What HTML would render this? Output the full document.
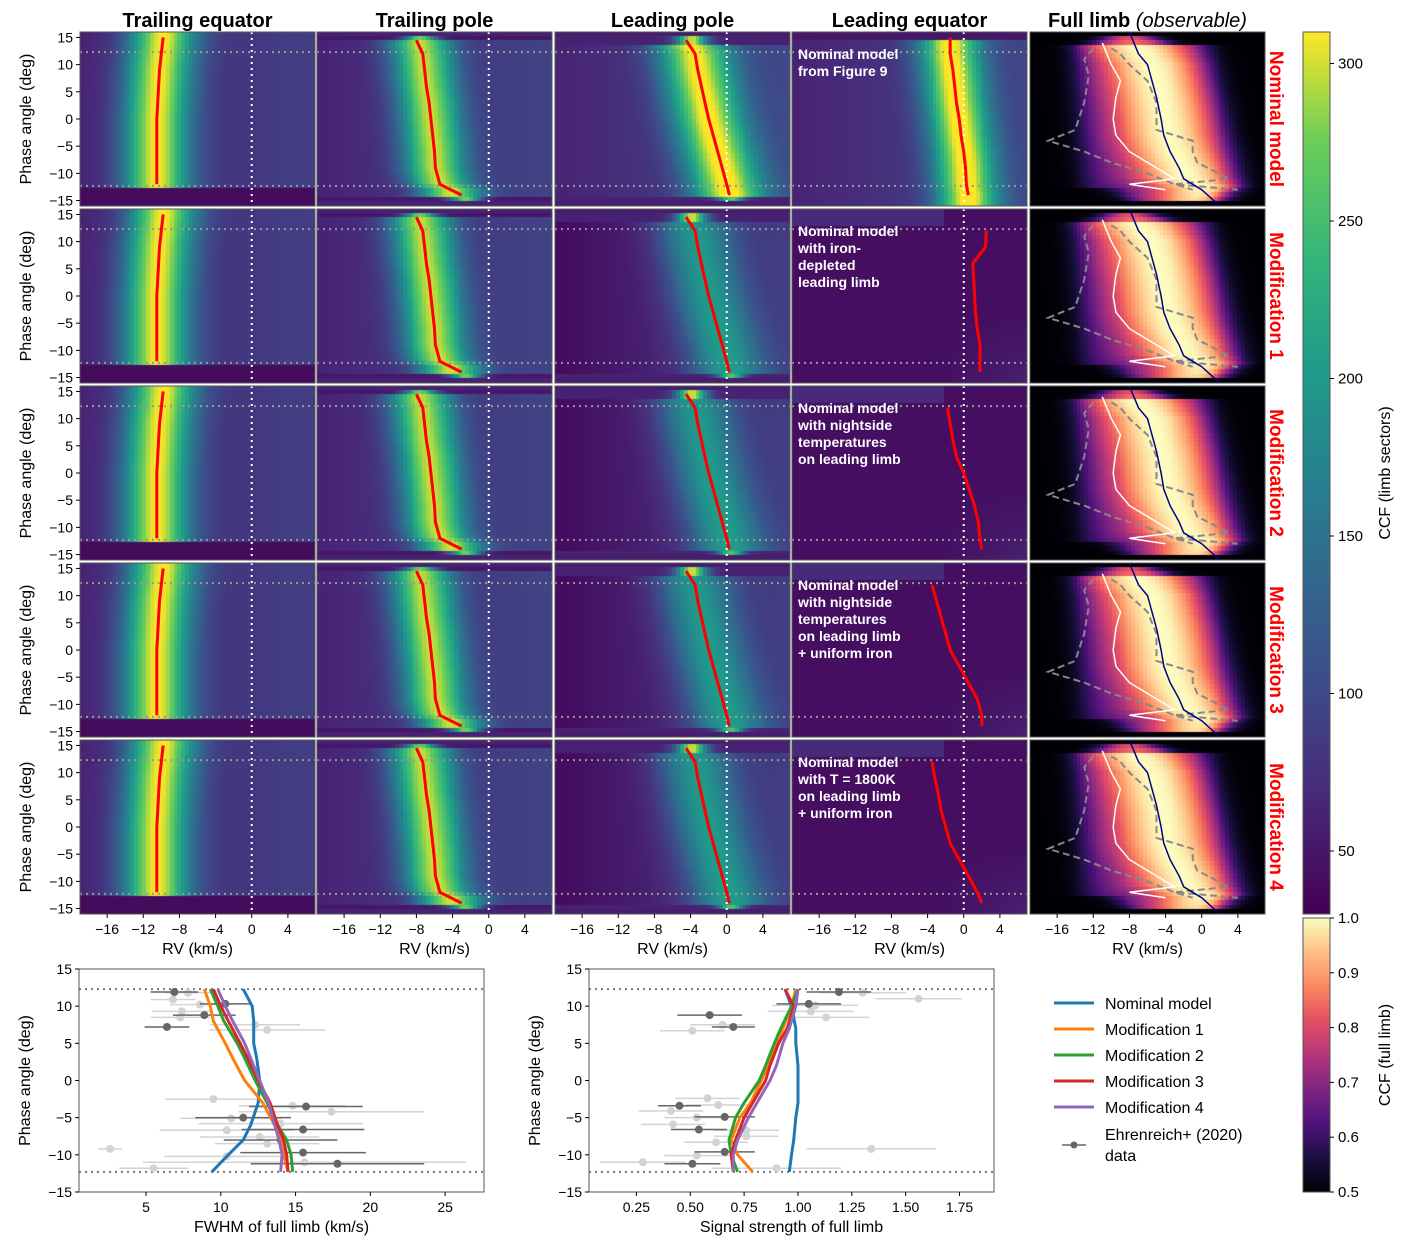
<!DOCTYPE html>
<html><head><meta charset="utf-8">
<style>
body{margin:0;background:#fff;width:1402px;height:1244px;overflow:hidden;position:relative;font-family:"Liberation Sans",sans-serif}
canvas{position:absolute}
svg{position:absolute;left:0;top:0}
</style></head>
<body>
<div id="cv"></div>
<svg id="s" width="1402" height="1244">
<defs>
<linearGradient id="vir" x1="0" y1="1" x2="0" y2="0">
<stop offset="0" stop-color="#440154"/><stop offset="0.13" stop-color="#482878"/><stop offset="0.25" stop-color="#3e4989"/><stop offset="0.38" stop-color="#31688e"/><stop offset="0.5" stop-color="#26828e"/><stop offset="0.63" stop-color="#1f9e89"/><stop offset="0.75" stop-color="#35b779"/><stop offset="0.88" stop-color="#6ece58"/><stop offset="1" stop-color="#fde725"/></linearGradient>
<linearGradient id="mag" x1="0" y1="1" x2="0" y2="0">
<stop offset="0" stop-color="#000004"/><stop offset="0.13" stop-color="#1c1044"/><stop offset="0.25" stop-color="#4f127b"/><stop offset="0.38" stop-color="#812581"/><stop offset="0.5" stop-color="#b5367a"/><stop offset="0.63" stop-color="#e55064"/><stop offset="0.75" stop-color="#fb8761"/><stop offset="0.88" stop-color="#fec287"/><stop offset="1" stop-color="#fcfdbf"/></linearGradient>
</defs>
</svg>
<script>
// ---------- data ----------
const colTitles=["Trailing equator","Trailing pole","Leading pole","Leading equator"];
const rowLabels=["Nominal model","Modification 1","Modification 2","Modification 3","Modification 4"];
const annots=[["Nominal model","from Figure 9"],["Nominal model","with iron-","depleted","leading limb"],["Nominal model","with nightside","temperatures","on leading limb"],["Nominal model","with nightside","temperatures","on leading limb","+ uniform iron"],["Nominal model","with T = 1800K","on leading limb","+ uniform iron"]];
const phases=[15,12,9,6,3,0,-3,-6,-9,-12,-14];
const centerTE=[-9.8,-10,-10.2,-10.3,-10.4,-10.5,-10.5,-10.5,-10.5,-10.5,null];
const centerTP=[-8,-7.3,-7.1,-6.9,-6.6,-6.4,-6.2,-6,-5.9,-5.4,-3];
const centerLP=[-4.5,-3.5,-3.2,-2.8,-2.4,-2,-1.5,-1,-0.5,0,0.3];
const centerLE=[[-1.5,-1.5,-1.2,-1,-0.8,-0.5,-0.3,0,0.2,0.3,0.5],
 [null,2.5,2.4,1.0,1.1,1.2,1.3,1.5,1.8,1.8,1.8],
 [null,-1.8,-1.5,-1.2,-0.8,0,0.6,1.2,1.6,1.8,2],
 [null,-3.5,-3,-2.5,-2,-1.5,-0.5,0.5,1.5,2,2],
 [null,-3.5,-3.2,-2.8,-2.5,-2,-1.5,-0.5,0.5,1.5,2]];
const lpAmp=[230,130,130,130,130];
// full limb lines
const flPh=[14,12,10,7,4,0,-3,-6,-9,-11,-12,-13];
const whiteRV=[-11,-10.5,-10,-9,-9.5,-9.8,-9.5,-8,-5,-3,-8,-4];
const navyRV=[-8,-7,-6,-5.5,-5,-4.5,-4.2,-3.5,-2.5,-2,-1,0];
const dashL_ph=[13,11,8,3,-2,-4,-6,-8,-10,-12,-13];
const dashL_rv=[-12,-13,-12.5,-13,-14,-17,-13,-10,-6,-3,-1];
const dashR_ph=[13,12,10,7,3,-2,-4,-6,-8,-11,-12,-13];
const dashR_rv=[-10,-9,-8,-6,-5,-5,-1,-1,-0.5,3,-3,4];
// bottom-left FWHM
const fwPh=[12.3,10,8,5,3,0,-3,-6,-8,-10,-12.3];
const fwBlue=[11.5,12.1,12.2,12.2,12.4,12.6,12.5,12.0,11.5,10.5,9.4];
const fwOrange=[8.9,9.3,9.5,10.3,10.8,11.6,12.8,13.6,14.0,14.2,14.5];
const fwGreen=[9.3,9.8,10.2,11.1,11.6,12.3,13.1,13.8,14.4,14.7,14.8];
const fwRed=[9.5,10.0,10.5,11.3,11.8,12.5,13.3,13.8,14.2,14.4,14.5];
const fwPurple=[9.8,10.3,10.8,11.6,12.0,12.6,13.2,13.6,13.9,14.1,14.0];
const fwDarkX=[6.9,10.3,8.9,6.4,15.7,11.5,15.5,14,15.5,17.8];
const fwDarkY=[11.9,10.3,8.8,7.2,-3.5,-5,-6.6,-8,-9.7,-11.2];
const fwDarkE=[1.6,1.7,2.1,1.5,3.8,3.2,4.1,3.8,4.2,5.8];
const fwLightX=[7.8,6.8,8.6,7.4,7.3,12.3,13.1,9.5,14.8,17.4,10.7,14,10.4,12.6,13.1,2.6,10.4,15.6,5.5];
const fwLightY=[11.8,10.9,10.2,9.3,8.5,7.5,6.8,-2.5,-3.4,-4.2,-5.1,-5.8,-6.7,-7.6,-8.5,-9.2,-10.2,-11,-11.8];
const fwLightE=[1.5,1.5,2,2,2,3,3.9,3.2,3.6,6.2,3.4,5.5,4.5,4,3.5,0.8,4.2,10.8,2.3];
// bottom-right signal strength
const ssPh=[12.3,10,7,5,2,0,-3,-5,-8,-10,-12.3];
const ssBlue=[0.94,0.97,0.99,0.99,1.0,1.0,1.0,0.99,0.98,0.97,0.96];
const ssOrange=[0.99,0.97,0.93,0.9,0.86,0.83,0.78,0.73,0.69,0.72,0.79];
const ssGreen=[1.0,0.97,0.92,0.89,0.85,0.82,0.75,0.71,0.68,0.69,0.72];
const ssRed=[0.94,0.98,0.95,0.91,0.87,0.85,0.79,0.75,0.71,0.69,0.70];
const ssPurple=[1.0,0.99,0.96,0.93,0.9,0.87,0.81,0.77,0.72,0.70,0.70];
const ssDarkX=[1.19,1.05,0.59,0.7,0.45,0.66,0.54,0.66,0.51];
const ssDarkY=[11.9,10.3,8.8,7.2,-3.4,-4.9,-6.6,-9.6,-11.2];
const ssDarkE=[0.15,0.15,0.15,0.1,0.1,0.14,0.13,0.14,0.13];
const ssLightX=[1.3,1.56,1.08,1.06,1.13,0.65,0.51,0.58,0.63,0.41,0.53,0.42,0.76,0.76,0.62,1.34,0.53,0.28,0.9];
const ssLightY=[11.8,11,10.1,9.3,8.5,7.5,6.7,-2.4,-3.3,-4.1,-5,-5.9,-6.7,-7.5,-8.3,-9.2,-10.1,-11,-11.8];
const ssLightE=[0.2,0.2,0.2,0.2,0.2,0.15,0.15,0.15,0.15,0.15,0.15,0.15,0.15,0.15,0.15,0.3,0.15,0.2,0.3];
const legendNames=["Nominal model","Modification 1","Modification 2","Modification 3","Modification 4"];
const legendColors=["#1f77b4","#ff7f0e","#2ca02c","#d62728","#9467bd"];

// ---------- helpers ----------
const NS="http://www.w3.org/2000/svg";
const S=document.getElementById('s');
function el(tag,attrs,parent){const e=document.createElementNS(NS,tag);for(const k in attrs)e.setAttribute(k,attrs[k]);(parent||S).appendChild(e);return e;}
function txt(x,y,t,attrs,parent){const e=el('text',Object.assign({x:x,y:y,'font-size':15,fill:'#000'},attrs||{}),parent);e.textContent=t;return e;}
function interp(xs,ys,x){
  if(x>=xs[0])return ys[0];
  for(let i=1;i<xs.length;i++){if(x>=xs[i]){const a=ys[i-1],b=ys[i];if(a==null||b==null)return a==null?b:a;const t=(xs[i-1]-x)/(xs[i-1]-xs[i]);return a+(b-a)*t;}}
  return ys[ys.length-1];
}
const VIR=[[68,1,84],[72,40,120],[62,73,137],[49,104,142],[38,130,142],[31,158,137],[53,183,121],[110,206,88],[253,231,37]];
const MAG=[[0,0,4],[28,16,68],[79,18,123],[129,37,129],[181,54,122],[229,80,100],[251,135,97],[254,194,135],[252,253,191]];
function cmap(c,t){t=Math.max(0,Math.min(1,t));const f=t*(c.length-1),i=Math.min(c.length-2,Math.floor(f)),r=f-i;return 'rgb('+c[i].map((v,k)=>Math.round(v+(c[i+1][k]-v)*r)).join(',')+')';}
const vmin=30,vmax=310;

const colX=[80,317,555,792,1030],W=235,rowY=[32,209,386,563,740],H=174;
const xr=[-19,7],yr=[-16,16];
const xs=(c,v)=>colX[c]+(v-xr[0])/(xr[1]-xr[0])*W;
const ys=(r,v)=>rowY[r]+(yr[1]-v)/(yr[1]-yr[0])*H;

function heatVal(c,r,rv,ph){
  const g=(cc,s)=>cc==null?0:Math.exp(-0.5*((rv-cc)/s)**2);
  if(c===0){let bg=60+30*(rv+19)/26;if(ph<-13)return 40;const cc=interp(phases,centerTE,Math.max(ph,-12));return bg+240*g(cc,2.6);}
  if(c===1){if(ph>15.3||ph<-15.3)return 60;if(ph>14||ph<-14.2){const cc=ph>0?-7.5:-2.5;return 50+250*g(cc,1.2)*0.9;}
    let bg=60+35*(rv+19)/26;const cc=interp(phases,centerTP,Math.max(Math.min(ph,13),-13));return bg+220*g(cc,2.4);}
  if(c===2){if(ph>15.2||ph<-15.3)return 55;if(ph>13.8){return 60+240*g(-3.8,1.2);}if(ph<-14.6)return 60+200*g(0.5,1);
    let bg=(r===0?60:38)+(r===0?40:50)*(rv+19)/26;const cc=interp(phases,centerLP,ph);return bg+lpAmp[r]*g(cc,2.8);}
  if(c===3){if(r===0){let bg=60+35*(rv+19)/26;if(ph>14)return 50;const cc=interp(phases,centerLE[0],ph);return bg+235*g(cc,2.4);}
    let bg=42+15*Math.max(0,(rv+3)/10)*Math.max(0,(-ph-3)/12);if(ph>12.5&&rv<-2)bg+=25;return bg;}
  return 0;
}
function limbVal(rv,ph){
  if(ph>15.5||ph<-15.5)return 0;
  let L,R;
  if(ph>13.5){L=-12+(ph-13.5)*1.2;R=-3-(ph-13.5)*2;}
  else if(ph<-13){L=-10+(-13-ph)*1;R=3.5-(-13-ph)*0.8;}
  else{L=-13.8+(13.5-ph)*0.04;R=0.5+(13.5-ph)*0.14;}
  const nav=interp(flPh,navyRV,ph);
  const edge=v=>1/(1+Math.exp(-v/0.9));
  const inside=edge(rv-L)*edge(R-rv);
  const peak=Math.exp(-0.5*((rv-(nav+0.5))/4.5)**2);
  const dim=ph>13.5?0.7:1;
  return inside*dim*(0.25+0.75*peak);
}

// ---------- heatmaps ----------
const cvDiv=document.getElementById('cv');
const nx=60,ny=40;
for(let r=0;r<5;r++)for(let c=0;c<5;c++){
  const cv=document.createElement('canvas');cv.width=W;cv.height=H;
  cv.style.left=colX[c]+'px';cv.style.top=rowY[r]+'px';
  
  
  cvDiv.appendChild(cv);const ctx=cv.getContext('2d');
  for(let i=0;i<nx;i++)for(let j=0;j<ny;j++){
    const rv=xr[0]+(i+0.5)/nx*(xr[1]-xr[0]);const ph=yr[1]-(j+0.5)/ny*(yr[1]-yr[0]);
    ctx.fillStyle=c<4?cmap(VIR,(heatVal(c,r,rv,ph)-vmin)/(vmax-vmin)):cmap(MAG,limbVal(rv,ph));
    ctx.fillRect(Math.floor(i*W/nx),Math.floor(j*H/ny),Math.ceil(W/nx)+1,Math.ceil(H/ny)+1);
  }
}
function pathFrom(xsArr,ysArr,fx,fy){let d='';let first=true;for(let i=0;i<xsArr.length;i++){if(xsArr[i]==null||ysArr[i]==null)continue;d+=(first?'M':'L')+fx(xsArr[i]).toFixed(1)+','+fy(ysArr[i]).toFixed(1);first=false;}return d;}

for(let r=0;r<5;r++){
  for(let c=0;c<5;c++){
    const g=el('g',{});
    
    
    const fx=v=>xs(c,v),fy=v=>ys(r,v);
    if(c<4){
      [12.3,-12.3].forEach(p=>el('line',{x1:colX[c],x2:colX[c]+W,y1:fy(p),y2:fy(p),stroke:'#999','stroke-width':2,'stroke-dasharray':'2,4'},g));
      el('line',{x1:fx(0),x2:fx(0),y1:rowY[r],y2:rowY[r]+H,stroke:'#fff','stroke-width':2,'stroke-dasharray':'2,4'},g);
      let arr=c===0?centerTE:c===1?centerTP:c===2?centerLP:centerLE[r];
      let ph=phases.slice();
      if(c===1||c===2){ph[0]=14.5;}
      const rl=el('path',{d:pathFrom(arr,ph,fx,fy),stroke:'#f00','stroke-width':3,fill:'none'},g);
      
      
      if(c===3){annots[r].forEach((t,k)=>txt(colX[c]+6,rowY[r]+27+k*17,t,{fill:'#fff','font-weight':'bold','font-size':14},g));}
    } else {
      el('path',{d:pathFrom(dashL_rv,dashL_ph,fx,fy),stroke:'#888','stroke-width':2,fill:'none','stroke-dasharray':'7,4'},g);
      el('path',{d:pathFrom(dashR_rv,dashR_ph,fx,fy),stroke:'#888','stroke-width':2,fill:'none','stroke-dasharray':'7,4'},g);
      el('path',{d:pathFrom(whiteRV,flPh,fx,fy),stroke:'#fff','stroke-width':1.5,fill:'none'},g);
      el('path',{d:pathFrom(navyRV.concat([2]),[16].concat(flPh.slice(1)).concat([-16]),fx,fy),stroke:'#00008b','stroke-width':1.5,fill:'none'},g);
    }
    el('rect',{x:colX[c],y:rowY[r],width:W,height:H,fill:'none',stroke:'#555','stroke-width':1},g);
    if(c===0){[15,10,5,0,-5,-10,-15].forEach(v=>{el('line',{x1:colX[0]-4,x2:colX[0],y1:fy(v),y2:fy(v),stroke:'#000'});txt(colX[0]-7,fy(v)+5,v<0?'\u2212'+(-v):String(v),{'text-anchor':'end','font-size':14});});
      const yl=txt(0,0,'Phase angle (deg)',{'font-size':16,'text-anchor':'middle',transform:'translate(31,'+(rowY[r]+H/2)+') rotate(-90)'});
      
      }
    if(r===4){[-16,-12,-8,-4,0,4].forEach(v=>{el('line',{x1:fx(v),x2:fx(v),y1:rowY[4]+H,y2:rowY[4]+H+4,stroke:'#000'});txt(fx(v),rowY[4]+H+20,v<0?'\u2212'+(-v):String(v),{'text-anchor':'middle','font-size':14});});
      const xl=txt(colX[c]+W/2,rowY[4]+H+40,'RV (km/s)',{'text-anchor':'middle','font-size':16});
      
      }
  }
  const rl=txt(0,0,rowLabels[r],{fill:'#f00','font-weight':'bold','font-size':19,'text-anchor':'middle',transform:'translate(1270,'+(rowY[r]+H/2)+') rotate(90)'});
  
  
}
colTitles.forEach((t,c)=>{const e=txt(colX[c]+W/2,27,t,{'text-anchor':'middle','font-weight':'bold','font-size':20});
  
  });
{const e=txt(colX[4]+W/2,27,'',{'text-anchor':'middle','font-size':20});
 
 
 const a=el('tspan',{'font-weight':'bold'},e);a.textContent='Full limb ';const b=el('tspan',{'font-style':'italic'},e);b.textContent='(observable)';}

// ---------- colorbars ----------
{const g=el('g',{});
 el('rect',{x:1303,y:32,width:27,height:882,fill:'url(#vir)',stroke:'#555'},g);
 [50,100,150,200,250,300].forEach(v=>{const y=914-(v-vmin)/(vmax-vmin)*882;el('line',{x1:1330,x2:1334,y1:y,y2:y,stroke:'#000'},g);txt(1338,y+5,String(v),{'font-size':15},g);});
 txt(0,0,'CCF (limb sectors)',{'font-size':16,'text-anchor':'middle',transform:'translate(1390,473) rotate(-90)'},g);}
{const g=el('g',{});
 el('rect',{x:1303,y:918,width:27,height:274,fill:'url(#mag)',stroke:'#555'},g);
 [0.5,0.6,0.7,0.8,0.9,1.0].forEach(v=>{const y=1192-(v-0.5)/0.5*274;el('line',{x1:1330,x2:1334,y1:y,y2:y,stroke:'#000'},g);txt(1338,y+5,v.toFixed(1),{'font-size':15},g);});
 txt(0,0,'CCF (full limb)',{'font-size':16,'text-anchor':'middle',transform:'translate(1390,1055) rotate(-90)'},g);}

// ---------- bottom plots ----------
function bottomPlot(name,bx,bw,xmin,xmax,xticks,xtickFmt,xlabel,ph,series,dX,dY,dE,lX,lY,lE){
  const g=el('g',{});
  const by=969,bh=223;const fx=v=>bx+(v-xmin)/(xmax-xmin)*bw,fy=v=>by+(15-v)/30*bh;
  [12.3,-12.3].forEach(p=>el('line',{x1:bx,x2:bx+bw,y1:fy(p),y2:fy(p),stroke:'#777','stroke-width':2,'stroke-dasharray':'2,4'},g));
  lX.forEach((x,i)=>{el('line',{x1:fx(x-lE[i]),x2:fx(x+lE[i]),y1:fy(lY[i]),y2:fy(lY[i]),stroke:'#d3d3d3','stroke-width':1.5},g);el('circle',{cx:fx(x),cy:fy(lY[i]),r:4,fill:'#d3d3d3'},g);});
  dX.forEach((x,i)=>{el('line',{x1:fx(x-dE[i]),x2:fx(x+dE[i]),y1:fy(dY[i]),y2:fy(dY[i]),stroke:'#666','stroke-width':1.5},g);el('circle',{cx:fx(x),cy:fy(dY[i]),r:4,fill:'#666'},g);});
  series.forEach((s,k)=>{const p=el('path',{d:pathFrom(s,ph,fx,fy),stroke:legendColors[k],'stroke-width':3,fill:'none','stroke-linejoin':'round'},g);
    
    });
  el('rect',{x:bx,y:by,width:bw,height:bh,fill:'none',stroke:'#555'},g);
  [15,10,5,0,-5,-10,-15].forEach(v=>{el('line',{x1:bx-4,x2:bx,y1:fy(v),y2:fy(v),stroke:'#000'},g);txt(bx-7,fy(v)+5,v<0?'\u2212'+(-v):String(v),{'text-anchor':'end','font-size':14},g);});
  xticks.forEach(v=>{el('line',{x1:fx(v),x2:fx(v),y1:by+bh,y2:by+bh+4,stroke:'#000'},g);txt(fx(v),by+bh+20,xtickFmt(v),{'text-anchor':'middle','font-size':14},g);});
  txt(bx+bw/2,by+bh+40,xlabel,{'text-anchor':'middle','font-size':16},g);
  txt(0,0,'Phase angle (deg)',{'font-size':16,'text-anchor':'middle',transform:'translate('+(bx-49)+','+(by+bh/2)+') rotate(-90)'},g);
}
bottomPlot('fwhm-plot',79,405,0.52,27.6,[5,10,15,20,25],v=>String(v),'FWHM of full limb (km/s)',fwPh,[fwBlue,fwOrange,fwGreen,fwRed,fwPurple],fwDarkX,fwDarkY,fwDarkE,fwLightX,fwLightY,fwLightE);
bottomPlot('signal-strength-plot',589,405,0.03,1.91,[0.25,0.5,0.75,1.0,1.25,1.5,1.75],v=>v.toFixed(2),'Signal strength of full limb',ssPh,[ssBlue,ssOrange,ssGreen,ssRed,ssPurple],ssDarkX,ssDarkY,ssDarkE,ssLightX,ssLightY,ssLightE);

// ---------- legend ----------
{const g=el('g',{});
 legendNames.forEach((n,k)=>{const y=1003+k*26;el('line',{x1:1054,x2:1094,y1:y,y2:y,stroke:legendColors[k],'stroke-width':3},g);txt(1105,y+6,n,{'font-size':16},g);});
 const y=1145;el('line',{x1:1062,x2:1086,y1:y,y2:y,stroke:'#666','stroke-width':1.5},g);el('circle',{cx:1074,cy:y,r:3.5,fill:'#666'},g);
 txt(1105,y-5,'Ehrenreich+ (2020)',{'font-size':16},g);txt(1105,y+16,'data',{'font-size':16},g);}
</script>
</body></html>
